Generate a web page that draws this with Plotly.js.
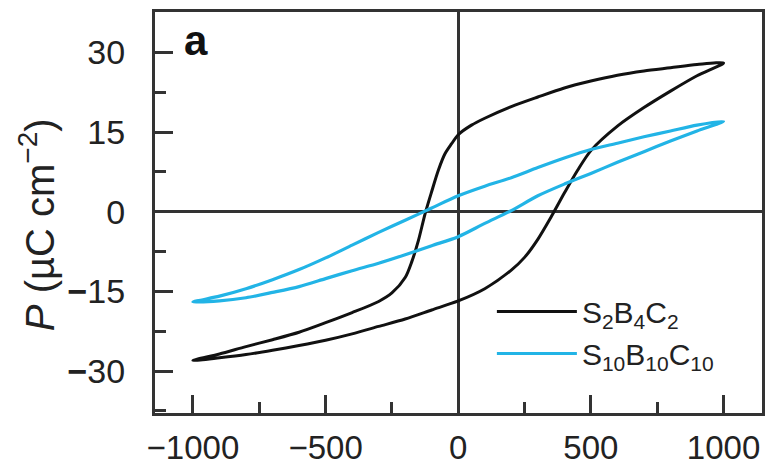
<!DOCTYPE html>
<html>
<head>
<meta charset="utf-8">
<script src="https://cdn.plot.ly/plotly-3.0.1.min.js"></script>
<style>html,body{margin:0;padding:0;background:#fff;}</style>
</head>
<body>
<div id="chart" style="width:775px;height:468px;"></div>
<script>
// S2B4C2 loop: descending branch (+1000 -> -1000)
const s2DescE = [1000, 900, 800, 700, 600, 500, 400, 300, 200, 100, 50, 0, -25, -50, -75, -100, -125, -150, -175, -200, -250, -300, -400, -500, -600, -700, -800, -900, -1000];
const s2DescP = [28.0, 27.7, 27.1, 26.5, 25.7, 24.6, 23.3, 21.6, 19.8, 17.6, 16.3, 14.5, 12.8, 10.9, 7.8, 3.8, -0.4, -5.4, -9.4, -12.4, -15.3, -16.9, -19.0, -20.9, -22.7, -24.1, -25.4, -26.8, -28.0];
// S2B4C2 loop: ascending branch (-1000 -> +1000)
const s2AscE = [-900, -800, -700, -600, -500, -400, -300, -200, -100, 0, 100, 200, 250, 300, 350, 400, 450, 500, 600, 700, 800, 900, 1000];
const s2AscP = [-27.5, -26.9, -26.1, -25.2, -24.2, -23.0, -21.6, -20.2, -18.5, -16.8, -14.5, -11.0, -8.6, -5.2, -1.0, 3.5, 7.8, 11.5, 16.1, 19.6, 22.7, 25.6, 28.0];

// S10B10C10 loop: descending branch
const s10DescE = [1000, 900, 800, 700, 600, 500, 400, 300, 200, 100, 0, -100, -200, -300, -400, -500, -600, -700, -800, -900, -1000];
const s10DescP = [17.0, 16.3, 15.2, 14.1, 12.9, 11.7, 10.1, 8.3, 6.4, 4.8, 3.0, 0.7, -1.6, -3.9, -6.3, -8.7, -10.9, -12.8, -14.5, -15.9, -17.0];
// S10B10C10 loop: ascending branch
const s10AscE = [-900, -800, -700, -600, -500, -400, -300, -200, -100, 0, 100, 200, 300, 400, 500, 600, 700, 800, 900, 1000];
const s10AscP = [-16.8, -16.2, -15.2, -14.1, -12.6, -11.1, -9.7, -8.1, -6.4, -4.7, -2.2, 0.2, 3.0, 5.2, 7.2, 9.3, 11.3, 13.3, 15.2, 17.0];

const seriesNames = ['S<sub>2</sub>B<sub>4</sub>C<sub>2</sub>', 'S<sub>10</sub>B<sub>10</sub>C<sub>10</sub>'];

const xTickVals = [-1000, -500, 0, 500, 1000];
const xTickText = ['\u22121000', '\u2212500', '0', '500', '1000'];
const yTickVals = [-30, -15, 0, 15, 30];
const yTickText = ['<b>\u2212</b>30', '<b>\u2212</b>15', '0', '15', '30'];

const FONT = 'Liberation Sans, Arial, Helvetica, sans-serif';
const AXC = '#333';

const traces = [
  {
    x: s2DescE.concat(s2AscE),
    y: s2DescP.concat(s2AscP),
    mode: 'lines', name: seriesNames[0],
    line: {color: '#111111', width: 3, shape: 'spline', smoothing: 0.8}
  },
  {
    x: s10DescE.concat(s10AscE),
    y: s10DescP.concat(s10AscP),
    mode: 'lines', name: seriesNames[1],
    line: {color: '#22b4e6', width: 3.2, shape: 'spline', smoothing: 0.8}
  }
];

const axisCommon = {
  showgrid: false, ticks: 'inside', ticklen: 18, tickwidth: 3, tickcolor: AXC,
  showline: true, mirror: true, linewidth: 3, linecolor: AXC,
  zeroline: true, zerolinecolor: AXC, zerolinewidth: 3,
  tickmode: 'array',
  tickfont: {family: FONT, size: 34, color: '#222'}
};

const layout = {
  width: 775, height: 468,
  margin: {l: 155, r: 13, t: 12, b: 55},
  paper_bgcolor: '#fff', plot_bgcolor: '#fff',
  showlegend: true,
  legend: {
    x: 0.555, y: 0.318, xanchor: 'left', yanchor: 'top',
    bgcolor: 'rgba(0,0,0,0)', borderwidth: 0,
    font: {family: FONT, size: 30, color: '#222'},
    itemwidth: 80, tracegroupgap: 0
  },
  xaxis: Object.assign({}, axisCommon, {
    range: [-1143, 1145], tickvals: xTickVals, ticktext: xTickText,
    tickfont: {family: FONT, size: 33, color: '#222'},
    minor: {dtick: 250, tick0: 0, ticks: 'inside', ticklen: 11, tickwidth: 3, tickcolor: AXC, showgrid: false},
    ticklabelstandoff: 3
  }),
  yaxis: Object.assign({}, axisCommon, {
    range: [-37.9, 37.6], tickvals: yTickVals, ticktext: yTickText,
    minor: {dtick: 7.5, tick0: 0, ticks: 'inside', ticklen: 11, tickwidth: 3, tickcolor: AXC, showgrid: false},
    ticklabelstandoff: 20
  }),
  annotations: [
    {
      xref: 'paper', yref: 'paper', x: 0.045, y: 0.93, xanchor: 'left', yanchor: 'middle',
      text: '<b>a</b>', showarrow: false, font: {family: FONT, size: 42, color: '#111'}
    },
    {
      xref: 'paper', yref: 'paper', x: -0.195, y: 0.47, xanchor: 'center', yanchor: 'middle',
      textangle: -90, showarrow: false,
      text: '<i>P</i> (\u00b5C cm<sup>\u22122</sup>)', font: {family: FONT, size: 40, color: '#222'}
    }
  ]
};

Plotly.newPlot('chart', traces, layout, {displayModeBar: false, staticPlot: true});
</script>
</body>
</html>
